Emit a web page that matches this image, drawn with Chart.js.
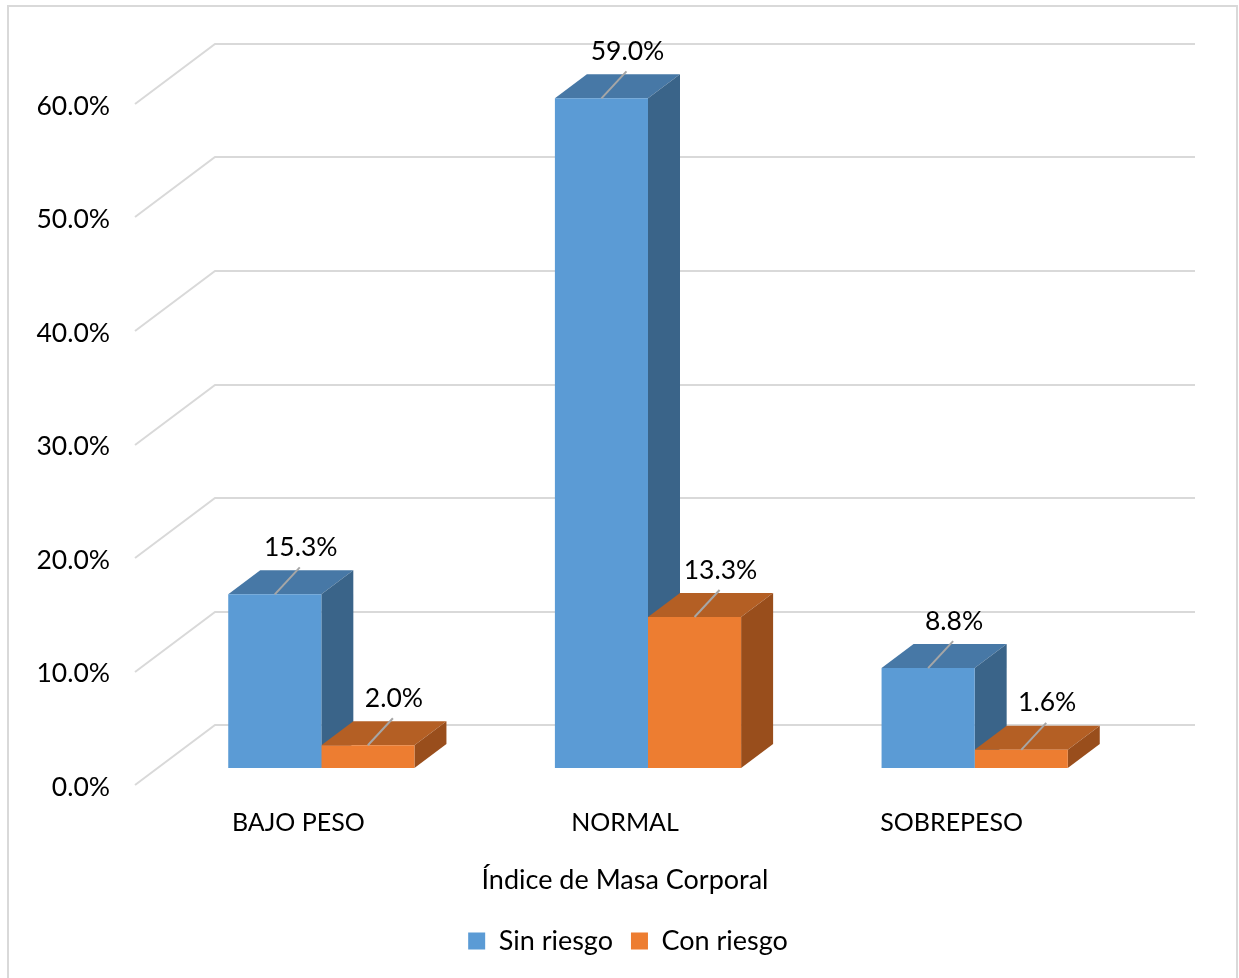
<!DOCTYPE html>
<html><head><meta charset="utf-8">
<script src="https://cdn.jsdelivr.net/npm/chart.js@4.4.1/dist/chart.umd.min.js"></script>
<style>html,body{margin:0;padding:0;background:#fff;}canvas{display:block;}</style>
</head><body>
<canvas id="c" width="1239" height="978"></canvas>
<script>
const categories = ['BAJO PESO', 'NORMAL', 'SOBREPESO'];
const seriesNames = ['Sin riesgo', 'Con riesgo'];
const sinRiesgo = [15.3, 59.0, 8.8];
const conRiesgo = [2.0, 13.3, 1.6];
const yTicks = [0, 10, 20, 30, 40, 50, 60];
const axisTitle = 'Índice de Masa Corporal';

const FONT = 'Lato, "Open Sans", sans-serif';
const TXT = '#000000';
const GRID = '#D9D9D9';
const DX = 32, DY = -24;   // bar depth
const WX = 80, WY = -60;   // wall depth
const BX = 23, BY = 17;    // bar plane offset from front plane
const faceColors = [
  {front: '#5B9BD5', top: '#4778A6', side: '#3A6489'},
  {front: '#ED7D31', top: '#B45F24', side: '#994E1C'}
];

function poly(ctx, pts, color) {
  ctx.beginPath();
  ctx.moveTo(pts[0][0], pts[0][1]);
  for (let i = 1; i < pts.length; i++) ctx.lineTo(pts[i][0], pts[i][1]);
  ctx.closePath();
  ctx.fillStyle = color;
  ctx.fill();
}

const threeD = {
  id: 'threeD',
  afterLayout(chart) {
    const s = chart.scales.x;
    if (s && !s.__shifted) {
      const orig = s.drawTitle;
      s.drawTitle = function () {
        const c = this.ctx;
        c.save();
        c.translate(-BX, 0);
        orig.call(this);
        c.restore();
      };
      s.__shifted = true;
    }
  },
  beforeDraw(chart) {
    const ctx = chart.ctx, a = chart.chartArea, y = chart.scales.y;
    ctx.save();
    ctx.strokeStyle = GRID; ctx.lineWidth = 2;
    ctx.strokeRect(8, 6, 1229, 1000);
    const fx = a.left - BX, bxr = a.right + WX - BX;
    yTicks.forEach(v => {
      const py = Math.round(y.getPixelForValue(v) + BY);
      ctx.beginPath();
      ctx.moveTo(fx, py);
      ctx.lineTo(fx + WX, py + WY);
      ctx.lineTo(bxr, py + WY);
      ctx.stroke();
    });
    ctx.restore();
  },
  beforeDatasetsDraw(chart) {
    const ctx = chart.ctx;
    ctx.save();
    const n = chart.data.labels.length;
    for (let c = 0; c < n; c++) {
      chart.data.datasets.forEach((ds, i) => {
        const bar = chart.getDatasetMeta(i).data[c];
        const p = bar.getProps(['x', 'y', 'base', 'width'], true);
        const l = p.x - p.width / 2, r = p.x + p.width / 2;
        const col = faceColors[i];
        poly(ctx, [[l, p.y], [r, p.y], [r + DX, p.y + DY], [l + DX, p.y + DY]], col.top);
        poly(ctx, [[r, p.y], [r + DX, p.y + DY], [r + DX, p.base + DY], [r, p.base]], col.side);
      });
    }
    ctx.restore();
  },
  afterDatasetsDraw(chart) {
    const ctx = chart.ctx;
    ctx.save();
    chart.data.datasets.forEach((ds, i) => {
      chart.getDatasetMeta(i).data.forEach((bar, c) => {
        const p = bar.getProps(['x', 'y'], true);
        ctx.strokeStyle = '#A6A6A6'; ctx.lineWidth = 2;
        ctx.beginPath();
        ctx.moveTo(p.x, p.y);
        ctx.lineTo(p.x + 25, p.y - 27);
        ctx.stroke();
        ctx.fillStyle = TXT;
        ctx.font = '26.5px ' + FONT;
        ctx.textAlign = 'center';
        ctx.textBaseline = 'middle';
        ctx.fillText(ds.data[c].toFixed(1) + '%', p.x + 26, p.y - 47);
      });
    });
    ctx.restore();
  }
};

new Chart(document.getElementById('c'), {
  type: 'bar',
  data: {
    labels: categories,
    datasets: [
      {label: seriesNames[0], data: sinRiesgo, backgroundColor: faceColors[0].front, borderWidth: 0},
      {label: seriesNames[1], data: conRiesgo, backgroundColor: faceColors[1].front, borderWidth: 0}
    ]
  },
  options: {
    responsive: false,
    animation: false,
    layout: {padding: {left: 17, right: 0, top: 87, bottom: 13.5}},
    datasets: {bar: {categoryPercentage: 0.57, barPercentage: 1.0}},
    plugins: {
      tooltip: {enabled: false},
      legend: {
        position: 'bottom',
        labels: {
          boxWidth: 17, boxHeight: 17, padding: 18,
          color: TXT, font: {family: FONT, size: 27}
        }
      }
    },
    scales: {
      x: {
        grid: {display: false, drawTicks: false},
        border: {display: false},
        ticks: {labelOffset: -BX, padding: 40, color: TXT, font: {family: FONT, size: 25}},
        title: {display: true, text: axisTitle, color: TXT, font: {family: FONT, size: 27}, padding: {top: 0, bottom: 13.3}},
        afterFit: s => { s.height = 141.5; }
      },
      y: {
        min: 0, max: 60,
        afterBuildTicks: s => { s.ticks = yTicks.map(v => ({value: v})); },
        grid: {display: false, drawTicks: false},
        border: {display: false},
        ticks: {labelOffset: BY + 2, padding: 48, color: TXT, font: {family: FONT, size: 26.5},
          callback: v => Number(v).toFixed(1) + '%'},
        afterFit: s => { s.width = 141; }
      },
      yr: {
        type: 'linear',
        position: 'right',
        min: 0, max: 60,
        grid: {display: false, drawTicks: false},
        border: {display: false},
        ticks: {display: false},
        afterFit: s => { s.width = 101; }
      }
    }
  },
  plugins: [threeD]
});
</script>
</body></html>
